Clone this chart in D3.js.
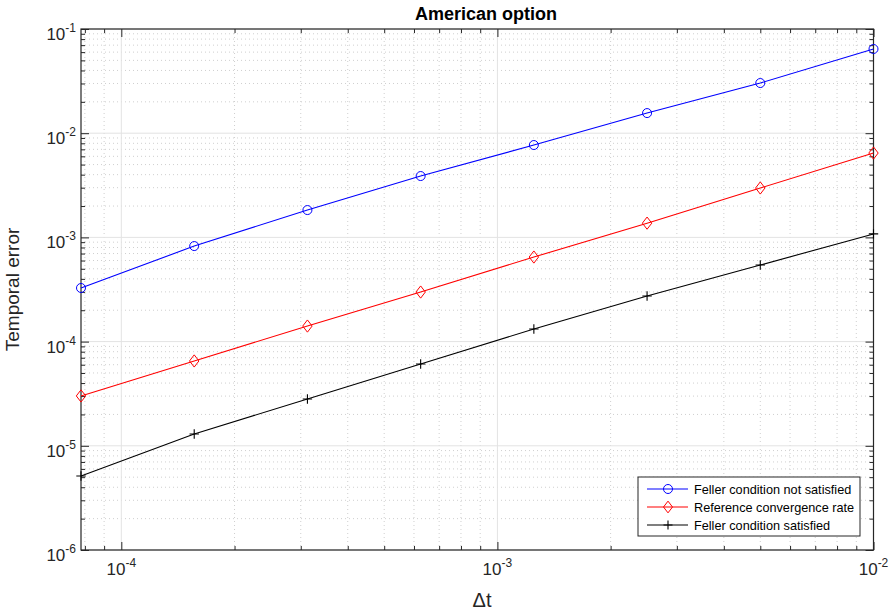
<!DOCTYPE html>
<html>
<head>
<meta charset="utf-8">
<script src="https://cdn.jsdelivr.net/npm/d3@7"></script>
<style>
  body { margin: 0; background: #fff; }
  svg { display: block; font-family: "Liberation Sans", Arial, sans-serif; }
</style>
</head>
<body>
<svg id="chart" width="893" height="612"></svg>
<script>
// time steps and errors
var dt = [0.01, 0.005, 0.0025, 0.00125, 0.000625, 0.0003125, 0.00015625, 0.000078125];
var errNotFeller = [0.0643, 0.0303, 0.0156, 0.0077, 0.00388, 0.00183, 0.000826, 0.000327];
var errReference = [0.00645, 0.00298, 0.00137, 0.000648, 0.000299, 0.000141, 0.0000652, 0.0000301];
var errFeller = [0.00108, 0.000543, 0.000274, 0.000132, 0.000061, 0.0000281, 0.000013, 0.00000513];

var seriesNames = ["Feller condition not satisfied", "Reference convergence rate", "Feller condition satisfied"];
var seriesColors = ["#0000ff", "#ff0000", "#000000"];
var seriesMarkers = ["circle", "diamond", "plus"];

var xDecades = [-4, -3, -2];
var yDecades = [-6, -5, -4, -3, -2, -1];

var svg = d3.select("#chart");
var pLeft = 81, pRight = 873.5, pTop = 29, pBottom = 550;

var x = d3.scaleLog().domain([0.000078125, 0.01]).range([pLeft, pRight]);
var y = d3.scaleLog().domain([1e-6, 1e-1]).range([pBottom, pTop]);

//minor tick values (2..9 of each decade) inside the domain
function minors(scale, lo, hi) {
    var out = [];
    var d = scale.domain();
    var dmin = Math.min(d[0], d[1]), dmax = Math.max(d[0], d[1]);
    for (var e = lo; e <= hi; e++) {
        for (var m = 2; m <= 9; m++) {
            var v = m * Math.pow(10, e);
            if (v >= dmin * 0.999 && v <= dmax * 1.001) out.push(v);
        }
    }
    return out;
}
var xMinor = minors(x, -5, -3);
var yMinor = minors(y, -6, -2);
var xMajor = xDecades.map(function(e) { return Math.pow(10, e); });
var yMajor = yDecades.map(function(e) { return Math.pow(10, e); });

var g = svg.append("g");

//minor grid (dotted)
g.selectAll(".xminor").data(xMinor).enter().append("line")
    .attr("x1", d => x(d)).attr("x2", d => x(d))
    .attr("y1", pTop).attr("y2", pBottom)
    .attr("stroke", "#cfcfcf").attr("stroke-width", 1).attr("stroke-dasharray", "1,3");
g.selectAll(".yminor").data(yMinor).enter().append("line")
    .attr("y1", d => y(d)).attr("y2", d => y(d))
    .attr("x1", pLeft).attr("x2", pRight)
    .attr("stroke", "#cfcfcf").attr("stroke-width", 1).attr("stroke-dasharray", "1,3");

//major grid
g.selectAll(".xmajor").data(xMajor).enter().append("line")
    .attr("x1", d => x(d)).attr("x2", d => x(d))
    .attr("y1", pTop).attr("y2", pBottom)
    .attr("stroke", "#e3e3e3").attr("stroke-width", 1);
g.selectAll(".ymajor").data(yMajor).enter().append("line")
    .attr("y1", d => y(d)).attr("y2", d => y(d))
    .attr("x1", pLeft).attr("x2", pRight)
    .attr("stroke", "#e3e3e3").attr("stroke-width", 1);

//axes with inward ticks on all four sides
var axisColor = "#262626";
function tickAxis(axisGen, tr, vals, size) {
    var a = g.append("g").attr("transform", tr)
        .call(axisGen.tickValues(vals).tickSize(size).tickFormat(""));
    a.select(".domain").remove();
    a.selectAll("line").attr("stroke", axisColor);
    return a;
}
tickAxis(d3.axisTop(x), "translate(0," + pBottom + ")", xMajor, 8);
tickAxis(d3.axisTop(x), "translate(0," + pBottom + ")", xMinor, 4);
tickAxis(d3.axisBottom(x), "translate(0," + pTop + ")", xMajor, 8);
tickAxis(d3.axisBottom(x), "translate(0," + pTop + ")", xMinor, 4);
tickAxis(d3.axisRight(y), "translate(" + pLeft + ",0)", yMajor, 8);
tickAxis(d3.axisRight(y), "translate(" + pLeft + ",0)", yMinor, 4);
tickAxis(d3.axisLeft(y), "translate(" + pRight + ",0)", yMajor, 8);
tickAxis(d3.axisLeft(y), "translate(" + pRight + ",0)", yMinor, 4);

g.append("rect").attr("x", pLeft).attr("y", pTop)
    .attr("width", pRight - pLeft).attr("height", pBottom - pTop)
    .attr("fill", "none").attr("stroke", axisColor).attr("stroke-width", 1.2);

//tick labels as 10^e
xDecades.forEach(function(e) {
    var t = g.append("text").attr("x", x(Math.pow(10, e))).attr("y", 575)
        .attr("text-anchor", "middle").attr("font-size", 17).attr("fill", "#262626");
    t.append("tspan").text("10");
    t.append("tspan").attr("dy", -8).attr("font-size", 12).text(String(e));
});
yDecades.forEach(function(e) {
    var t = g.append("text").attr("x", 76).attr("y", y(Math.pow(10, e)) + 11)
        .attr("text-anchor", "end").attr("font-size", 17).attr("fill", "#262626");
    t.append("tspan").text("10");
    t.append("tspan").attr("dy", -8).attr("font-size", 12).text(String(e));
});

//labels
svg.append("text").attr("x", 486).attr("y", 20).attr("text-anchor", "middle")
    .attr("font-size", 18).attr("font-weight", "bold").attr("fill", "#000").text("American option");
svg.append("text").attr("x", 482).attr("y", 607).attr("text-anchor", "middle")
    .attr("font-size", 20).attr("fill", "#262626").text("\u0394t");
svg.append("text").attr("transform", "translate(19," + ((pTop + pBottom) / 2) + ") rotate(-90)")
    .attr("text-anchor", "middle").attr("font-size", 19).attr("fill", "#262626").text("Temporal error");

//markers
function drawMarker(sel, type, color, size) {
    if (type === "circle") {
        sel.append("circle").attr("r", size).attr("fill", "none").attr("stroke", color).attr("stroke-width", 1);
    } else if (type === "diamond") {
        sel.append("path").attr("d", "M0," + (-size * 1.3) + "L" + size + ",0L0," + (size * 1.3) + "L" + (-size) + ",0Z")
            .attr("fill", "none").attr("stroke", color).attr("stroke-width", 1);
    } else {
        sel.append("path").attr("d", "M" + (-size) + ",0H" + size + "M0," + (-size) + "V" + size)
            .attr("fill", "none").attr("stroke", color).attr("stroke-width", 1.1);
    }
}

var allSeries = [errNotFeller, errReference, errFeller];
var line = d3.line().x(d => x(d[0])).y(d => y(d[1]));

allSeries.forEach(function(vals, i) {
    var pts = dt.map(function(d, j) { return [d, vals[j]]; });
    g.append("path").datum(pts).attr("d", line)
        .attr("fill", "none").attr("stroke", seriesColors[i]).attr("stroke-width", 1.1);
    pts.forEach(function(p) {
        var m = g.append("g").attr("transform", "translate(" + x(p[0]) + "," + y(p[1]) + ")");
        drawMarker(m, seriesMarkers[i], seriesColors[i], i === 0 ? 4.5 : 4.7);
    });
});

//legend
var lg = svg.append("g").attr("transform", "translate(638,477)");
lg.append("rect").attr("width", 222).attr("height", 59)
    .attr("fill", "#fff").attr("stroke", "#262626").attr("stroke-width", 1);
seriesNames.forEach(function(name, i) {
    var yy = 12 + i * 18;
    lg.append("line").attr("x1", 9).attr("x2", 50).attr("y1", yy).attr("y2", yy)
        .attr("stroke", seriesColors[i]).attr("stroke-width", 1.1);
    var m = lg.append("g").attr("transform", "translate(30," + yy + ")");
    drawMarker(m, seriesMarkers[i], seriesColors[i], 4.5);
    lg.append("text").attr("x", 56).attr("y", yy + 4.5).attr("font-size", 12.7)
        .attr("fill", "#000").text(name);
});
</script>
</body>
</html>
